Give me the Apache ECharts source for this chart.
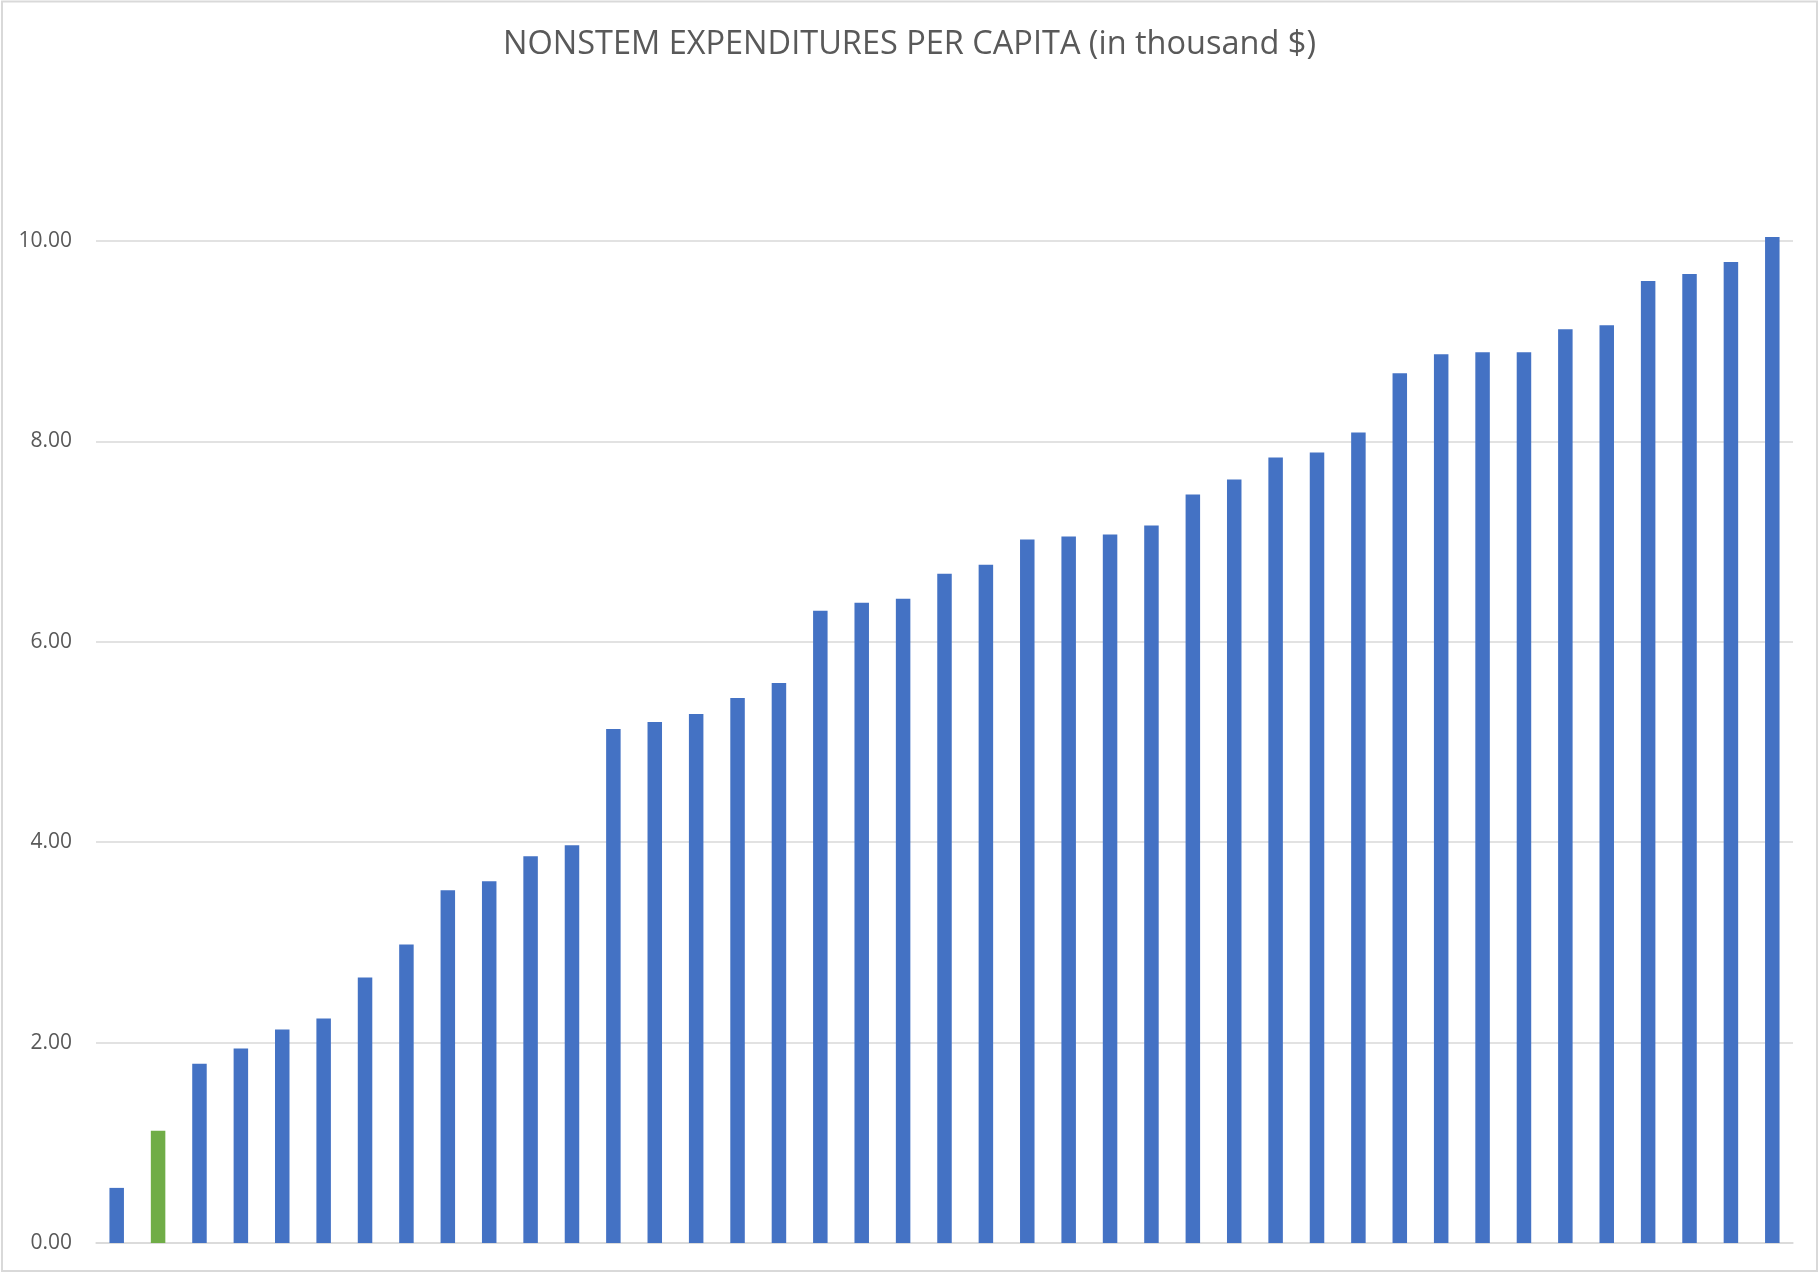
<!DOCTYPE html>
<html>
<head>
<meta charset="utf-8">
<script src="https://cdn.jsdelivr.net/npm/echarts@6/dist/echarts.min.js"></script>
<style>
html,body{margin:0;padding:0;background:#fff;}
#chart{width:1819px;height:1273px;}
</style>
</head>
<body>
<div id="chart"></div>
<script>
var titleText = 'NONSTEM EXPENDITURES PER CAPITA (in thousand $)';
var categories = ['1','2','3','4','5','6','7','8','9','10','11','12','13','14','15','16','17','18','19','20','21','22','23','24','25','26','27','28','29','30','31','32','33','34','35','36','37','38','39','40','41'];
var values = [0.55, 1.12, 1.79, 1.94, 2.13, 2.24, 2.65, 2.98, 3.52, 3.61, 3.86, 3.97,
              5.13, 5.20, 5.28, 5.44, 5.59, 6.31, 6.39, 6.43, 6.68, 6.77, 7.02, 7.05,
              7.07, 7.16, 7.47, 7.62, 7.84, 7.89, 8.09, 8.68, 8.87, 8.89, 8.89, 9.12,
              9.16, 9.60, 9.67, 9.79, 10.04];
var highlightIndex = 1;
var yTicks = [0, 2, 4, 6, 8, 10];

var chart = echarts.init(document.getElementById('chart'), null, {renderer: 'canvas'});
var data = values.map(function (v, i) {
  return {value: v, itemStyle: {color: i === highlightIndex ? '#70AD47' : '#4472C4'}};
});
chart.setOption({
  animation: false,
  backgroundColor: '#ffffff',
  title: {
    text: titleText,
    left: 'center',
    top: 23,
    textStyle: {fontFamily: 'Open Sans', fontSize: 32.5, fontWeight: 'normal', color: '#595959'}
  },
  graphic: [{
    type: 'rect',
    shape: {x: 2, y: 1.5, width: 1815, height: 1269.5},
    style: {fill: 'none', stroke: '#d9d9d9', lineWidth: 2},
    silent: true
  }],
  grid: {left: 96, right: 26, top: 241, bottom: 30, containLabel: false},
  xAxis: {
    type: 'category',
    data: categories,
    axisLine: {show: true, lineStyle: {color: '#d9d9d9', width: 1.5}},
    axisTick: {show: false},
    axisLabel: {show: false},
    splitLine: {show: false}
  },
  yAxis: {
    type: 'value',
    min: yTicks[0],
    max: yTicks[yTicks.length - 1],
    interval: 2,
    axisLine: {show: false},
    axisTick: {show: false},
    axisLabel: {
      margin: 24,
      fontFamily: 'Open Sans',
      fontSize: 21,
      color: '#595959',
      formatter: function (v) { return v.toFixed(2); }
    },
    splitLine: {lineStyle: {color: '#d9d9d9', width: 1.5}}
  },
  series: [{
    type: 'bar',
    data: data,
    barWidth: 14.5,
    clip: false
  }]
});
</script>
</body>
</html>
